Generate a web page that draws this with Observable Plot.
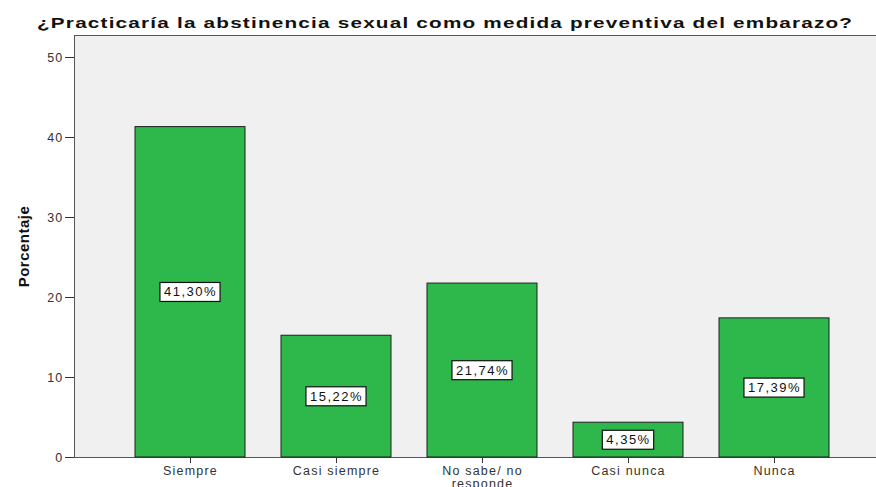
<!DOCTYPE html>
<html>
<head>
<meta charset="utf-8">
<script src="https://cdn.jsdelivr.net/npm/d3@7"></script>
<script src="https://cdn.jsdelivr.net/npm/@observablehq/plot@0.6"></script>
<style>
  html, body { margin: 0; padding: 0; background: #fff; overflow: hidden; }
  #title { height: 30px; box-sizing: border-box; padding: 14px 0 0 37px; white-space: nowrap; }
  #title span { display: inline-block; font: bold 15.5px "Liberation Sans", Arial, sans-serif; line-height: 15px; letter-spacing: 0.9px; color: #111; transform: scaleX(1.336); transform-origin: 0 0; }
  #chart svg { display: block; }
</style>
</head>
<body>
<div id="title"><span>¿Practicaría la abstinencia sexual como medida preventiva del embarazo?</span></div>
<div id="chart"></div>
<script>
const categories = ["Siempre", "Casi siempre", "No sabe/ no responde", "Casi nunca", "Nunca"];
const tickLabels = ["Siempre", "Casi siempre", "No sabe/ no\nresponde", "Casi nunca", "Nunca"];
const values = [41.30, 15.22, 21.74, 4.35, 17.39];
const pctLabels = ["41,30%", "15,22%", "21,74%", "4,35%", "17,39%"];
const yTicks = [0, 10, 20, 30, 40, 50];

const data = categories.map((c, i) => ({cat: c, value: values[i], label: pctLabels[i], tick: tickLabels[i]}));

const chart = Plot.plot({
  width: 876,
  height: 457,
  marginLeft: 74,
  marginRight: -13,
  marginTop: 5,
  marginBottom: 30,
  style: {fontFamily: "'Liberation Sans', Arial, sans-serif", fontSize: "12.5px", color: "#333", background: "#fff"},
  x: {domain: categories, paddingInner: 0.25, paddingOuter: 0.41, label: null,
      tickFormat: d => tickLabels[categories.indexOf(d)], tickSize: 6, tickPadding: 3},
  y: {domain: [0, 52.75], ticks: yTicks, tickSize: 9, tickPadding: 2, label: "Porcentaje",
      labelAnchor: "center", labelOffset: 56},
  marks: [
    Plot.frame({fill: "#f0f0f0", stroke: "#555"}),
    Plot.barY(data, {x: "cat", y: "value", fill: "#2eb84b", stroke: "#1e1e1e", strokeWidth: 1}),
    Plot.text(data, {x: "cat", y: d => d.value / 2, text: "label", fill: "#111", fontSize: 13})
  ]
});
document.getElementById("chart").appendChild(chart);

const svg = d3.select(chart);
svg.selectAll("text").style("letter-spacing", "1.2px");
// y label styling (no arrow, bold)
svg.selectAll('g[aria-label="y-axis label"] text')
  .text("Porcentaje")
  .style("font-weight", "bold").style("font-size", "15px").style("fill", "#111").style("letter-spacing", "0.5px");
svg.selectAll('g[aria-label="x-axis tick"], g[aria-label="y-axis tick"]').attr("stroke", "#333");
// white boxes behind percentage labels
svg.selectAll('g[aria-label="text"] text').style("letter-spacing", "1.5px").each(function() {
  const el = this;
  const b = el.getBBox();
  const padX = 4, padY = 3;
  d3.select(el.parentNode).insert("rect", () => el)
    .attr("transform", el.getAttribute("transform"))
    .attr("x", b.x - padX).attr("y", b.y - padY + 1)
    .attr("width", b.width + 2 * padX - 1).attr("height", b.height + 2 * padY - 2)
    .attr("fill", "#fff").attr("stroke", "#111").attr("stroke-width", 1.2);
});
</script>
</body>
</html>
